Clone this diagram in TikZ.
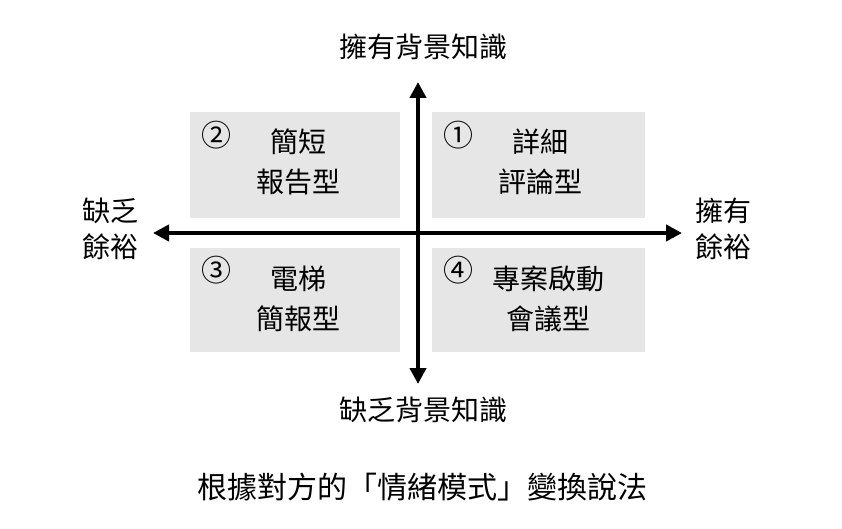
\documentclass[tikz,border=0pt]{standalone}
\usepackage{fontspec}
\setmainfont{Noto Sans CJK TC}
\usetikzlibrary{arrows.meta}
\definecolor{boxgray}{HTML}{E6E6E6}
\tikzset{
	quad/.style={fill=boxgray},
	lbl/.style={font=\fontsize{28}{32}\selectfont, inner sep=0pt},
	num/.style={font=\fontsize{30}{32}\selectfont, inner sep=0pt},
	axis/.style={line width=4pt, -{Triangle[length=16pt,width=16pt]}},
}
\begin{document}
\begin{tikzpicture}[x=1pt,y=-1pt]
	\useasboundingbox (0,0) rectangle (842,529);
	
	% quadrants
	\fill [quad] (190,112) rectangle (400,218);
	\fill [quad] (432,112) rectangle (645,218);
	\fill [quad] (190,248) rectangle (400,352);
	\fill [quad] (432,248) rectangle (645,352);
	
	% axes
	\coordinate (c) at (418,233);
	\coordinate (up) at (418,82);
	\coordinate (down) at (418,384);
	\coordinate (left) at (153,233);
	\coordinate (right) at (682,233);
	\draw [axis] (c) -- (up);
	\draw [axis] (c) -- (down);
	\draw [axis] (c) -- (left);
	\draw [axis] (c) -- (right);
	
	% axis labels
	\node [lbl] (top) at (423,47) {擁有背景知識};
	\node [lbl] (bottom) at (423,410) {缺乏背景知識};
	\node [lbl,align=center] (lt) at (110,229) {缺乏\\[4pt]餘裕};
	\node [lbl,align=center] (rt) at (723,229) {擁有\\[4pt]餘裕};
	
	% quadrant texts
	\node [num] (n2) at (216,135) {②};
	\node [lbl,align=center] (q2) at (298,162) {簡短\\[8pt]報告型};
	\node [num] (n1) at (458,135) {①};
	\node [lbl,align=center] (q1) at (540,162) {詳細\\[8pt]評論型};
	\node [num] (n3) at (216,270) {③};
	\node [lbl,align=center] (q3) at (298,299) {電梯\\[8pt]簡報型};
	\node [num] (n4) at (458,270) {④};
	\node [lbl,align=center] (q4) at (548,299) {專案啟動\\[8pt]會議型};
	
	% caption
	\node [font=\fontsize{30}{34}\selectfont, inner sep=0pt] (cap) at (422,487) {根據對方的「情緒模式」變換說法};
\end{tikzpicture}
\end{document}
